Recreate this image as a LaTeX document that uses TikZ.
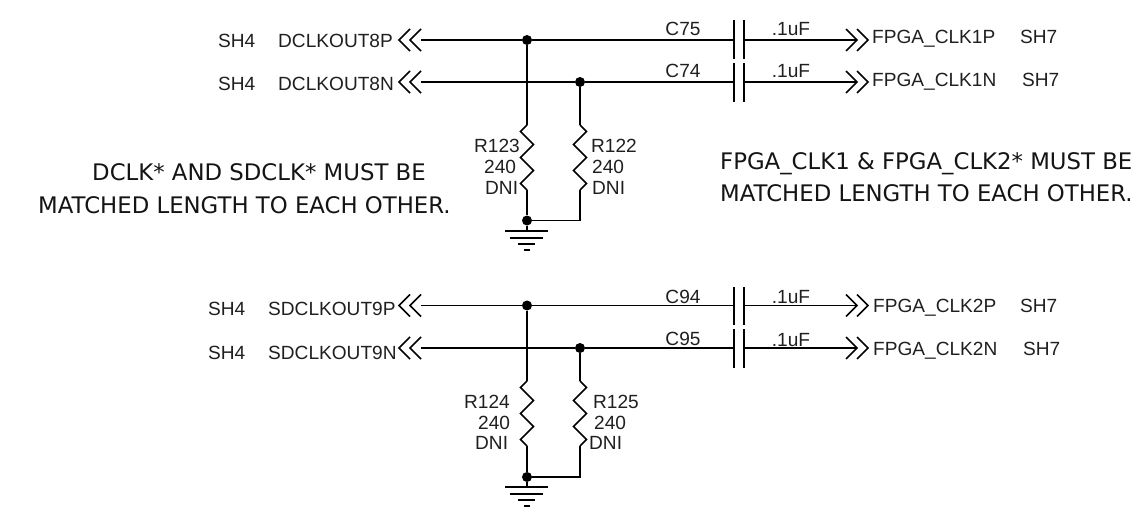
\documentclass[tikz,border=0pt]{standalone}
\usepackage{fontspec}
\setmainfont{Liberation Sans}
\newfontfamily\notefont{DejaVu Sans}
\tikzset{
 wire/.style={line width=1.75pt,black,line join=miter},
 dotj/.style={circle,fill=black,inner sep=0pt,minimum size=10pt},
 lab/.style={font=\fontsize{19.1}{21}\selectfont,inner sep=0pt,text=black!88,anchor=base west},
 labc/.style={font=\fontsize{19.1}{21}\selectfont,inner sep=0pt,text=black!88,anchor=base},
 note/.style={font=\notefont\fontsize{22.8}{32}\selectfont,inner sep=0pt,text=black!92,anchor=base west},
}
\newcommand{\chevL}[1]{%
 \draw[wire] ([shift={(11,-11)}]#1) -- (#1) -- ([shift={(11,11)}]#1);
 \draw[wire] ([shift={(22,-11)}]#1) -- ([shift={(11,0)}]#1) -- ([shift={(22,11)}]#1);}
\newcommand{\chevR}[1]{%
 \draw[wire] ([shift={(-22,-11)}]#1) -- ([shift={(-11,0)}]#1) -- ([shift={(-22,11)}]#1);
 \draw[wire] ([shift={(-11,-11)}]#1) -- (#1) -- ([shift={(-11,11)}]#1);}
\newcommand{\resist}[3]{% top, bottom, first direction (1 or -1)
 \draw[wire] (#1) -- ++(#3*6.5,6.5) -- ++(-#3*13,13) -- ++(#3*13,13) -- ++(-#3*13,13) -- ++(#3*13,13) -- (#2);}
\newcommand{\gnd}[1]{%
 \draw[wire] ([shift={(-22,0)}]#1) -- ([shift={(21,0)}]#1);
 \draw[wire] ([shift={(-17,7)}]#1) -- ([shift={(16,7)}]#1);
 \draw[wire] ([shift={(-9,13)}]#1) -- ([shift={(8,13)}]#1);
 \draw[wire] ([shift={(-3,19)}]#1) -- ([shift={(3,19)}]#1);}
\newcommand{\plates}[2]{% top y, bottom y
 \draw[wire] (733.7,#1) -- (733.7,#2);
 \draw[wire] (744.3,#1) -- (744.3,#2);}
\begin{document}
\begin{tikzpicture}[x=1pt,y=-1pt]
\useasboundingbox (0,0) rectangle (1144,508);
% ---- upper block
\node[lab] (s1) at (218,48) {SH4};
\node[lab] (n1) at (278,48) {DCLKOUT8P};
\node[lab] (s2) at (218,91) {SH4};
\node[lab] (n2) at (278,91) {DCLKOUT8N};
\coordinate (cl1) at (399,40);
\coordinate (cl2) at (399,82);
\coordinate (wl1) at (421,40);
\coordinate (wl2) at (421,82);
\chevL{cl1}\chevL{cl2}
\node[dotj] (j1) at (527,40) {};
\node[dotj] (j2) at (580,82) {};
\node[dotj] (j3) at (527,220.5) {};
\coordinate (c75a) at (733.7,40);
\coordinate (c75b) at (744.3,40);
\coordinate (c74a) at (733.7,82);
\coordinate (c74b) at (744.3,82);
\coordinate (cr1) at (868,40);
\coordinate (cr2) at (868,82);
\coordinate (wr1) at (857,40);
\coordinate (wr2) at (857,82);
\plates{20}{59}
\plates{63}{102}
\chevR{cr1}\chevR{cr2}
\draw[wire] (wl1) -- (j1) -- (c75a);
\draw[wire] (c75b) -- (wr1);
\draw[wire] (wl2) -- (j2) -- (c74a);
\draw[wire] (c74b) -- (wr2);
\coordinate (r123t) at (527,125);
\coordinate (r123b) at (527,190);
\coordinate (r122t) at (580,125);
\coordinate (r122b) at (580,190);
\coordinate (g1) at (527,231);
\coordinate (k1) at (580,220.5);
\draw[wire] (j1) -- (r123t);
\resist{r123t}{r123b}{-1}
\draw[wire] (r123b) -- (j3) -- (g1);
\draw[wire] (j2) -- (r122t);
\resist{r122t}{r122b}{1}
\draw[wire] (r122b) -- (k1) -- (j3);
\gnd{g1}
\node[lab] (r123) at (474,153) {R123};
\node[lab] (v123) at (484,174) {240};
\node[lab] (d123) at (485,195) {DNI};
\node[lab] (r122) at (591,153) {R122};
\node[lab] (v122) at (592,174) {240};
\node[lab] (d122) at (592,195) {DNI};
\node[labc] (c75) at (683,36) {C75};
\node[labc] (c74) at (683,78) {C74};
\node[labc] (u75) at (791,36) {.1uF};
\node[labc] (u74) at (791,78) {.1uF};
\node[lab] (f1) at (872,44) {FPGA\_CLK1P};
\node[lab] (f2) at (872,87) {FPGA\_CLK1N};
\node[lab] (s3) at (1020,44) {SH7};
\node[lab] (s4) at (1022,87) {SH7};
\node[note] (note1a) at (92,181) {DCLK* AND SDCLK* MUST BE};
\node[note] (note1b) at (38,213) {MATCHED LENGTH TO EACH OTHER.};
\node[note] (note2a) at (720,170) {FPGA\_CLK1 \& FPGA\_CLK2* MUST BE};
\node[note] (note2b) at (720,202) {MATCHED LENGTH TO EACH OTHER.};
% ---- lower block
\node[lab] (s5) at (208,315.5) {SH4};
\node[lab] (n5) at (268,315.5) {SDCLKOUT9P};
\node[lab] (s6) at (208,359) {SH4};
\node[lab] (n6) at (268,359) {SDCLKOUT9N};
\coordinate (cl3) at (399,305.5);
\coordinate (cl4) at (399,348);
\coordinate (wl3) at (421,305.5);
\coordinate (wl4) at (421,348);
\chevL{cl3}\chevL{cl4}
\node[dotj] (j4) at (527,305.5) {};
\node[dotj] (j5) at (580,348) {};
\node[dotj] (j6) at (527,477) {};
\coordinate (c94a) at (733.7,305.5);
\coordinate (c94b) at (744.3,305.5);
\coordinate (c95a) at (733.7,348);
\coordinate (c95b) at (744.3,348);
\coordinate (cr3) at (868,305.5);
\coordinate (cr4) at (868,348);
\coordinate (wr3) at (857,305.5);
\coordinate (wr4) at (857,348);
\plates{287}{325}
\plates{329}{368}
\chevR{cr3}\chevR{cr4}
\draw[wire] (wl3) -- (j4) -- (c94a);
\draw[wire] (c94b) -- (wr3);
\draw[wire] (wl4) -- (j5) -- (c95a);
\draw[wire] (c95b) -- (wr4);
\coordinate (r124t) at (527,381);
\coordinate (r124b) at (527,446);
\coordinate (r125t) at (580,381);
\coordinate (r125b) at (580,446);
\coordinate (g2) at (527,487);
\coordinate (k2) at (580,477);
\draw[wire] (j4) -- (r124t);
\resist{r124t}{r124b}{-1}
\draw[wire] (r124b) -- (j6) -- (g2);
\draw[wire] (j5) -- (r125t);
\resist{r125t}{r125b}{1}
\draw[wire] (r125b) -- (k2) -- (j6);
\gnd{g2}
\node[lab] (r124) at (464,408) {R124};
\node[lab] (v124) at (478,429) {240};
\node[lab] (d124) at (475,449) {DNI};
\node[lab] (r125) at (593,408) {R125};
\node[lab] (v125) at (594,429) {240};
\node[lab] (d125) at (589,449) {DNI};
\node[labc] (c94) at (683,303) {C94};
\node[labc] (c95) at (683,345) {C95};
\node[labc] (u94) at (791,303) {.1uF};
\node[labc] (u95) at (791,346) {.1uF};
\node[lab] (f3) at (873,312) {FPGA\_CLK2P};
\node[lab] (f4) at (873,355) {FPGA\_CLK2N};
\node[lab] (s7) at (1020,312) {SH7};
\node[lab] (s8) at (1023,355) {SH7};
\end{tikzpicture}
\end{document}
